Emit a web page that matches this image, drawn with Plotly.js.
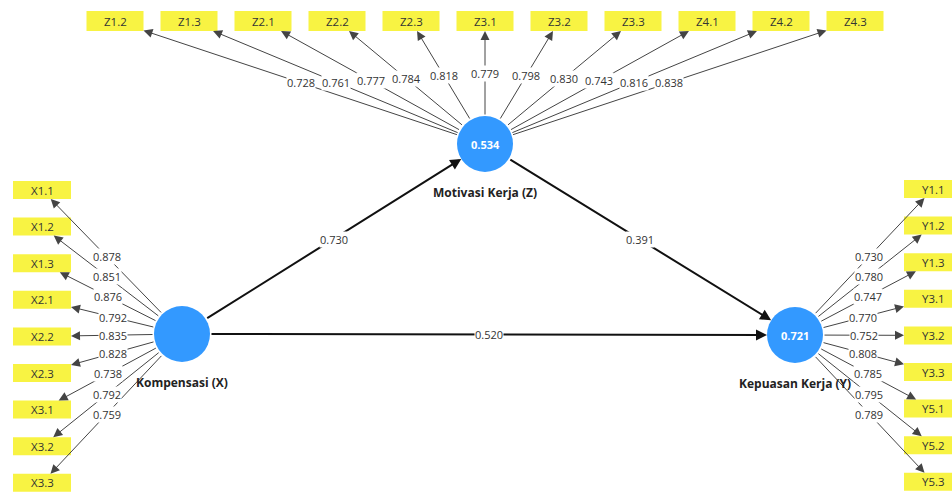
<!DOCTYPE html>
<html>
<head>
<meta charset="utf-8">
<script src="https://cdn.plot.ly/plotly-3.0.1.min.js"></script>
<style>html,body{margin:0;padding:0;background:#fff;}#chart{width:952px;height:493px;}</style>
</head>
<body>
<div id="chart"></div>
<script>
// ---- data ----
const zItems = ['Z1.2','Z1.3','Z2.1','Z2.2','Z2.3','Z3.1','Z3.2','Z3.3','Z4.1','Z4.2','Z4.3'];
const zLoadings = [0.728,0.761,0.777,0.784,0.818,0.779,0.798,0.830,0.743,0.816,0.838];
const xItems = ['X1.1','X1.2','X1.3','X2.1','X2.2','X2.3','X3.1','X3.2','X3.3'];
const xLoadings = [0.878,0.851,0.876,0.792,0.835,0.828,0.738,0.792,0.759];
const yItems = ['Y1.1','Y1.2','Y1.3','Y3.1','Y3.2','Y3.3','Y5.1','Y5.2','Y5.3'];
const yLoadings = [0.730,0.780,0.747,0.770,0.752,0.808,0.785,0.795,0.789];
const constructs = ['Kompensasi (X)','Motivasi Kerja (Z)','Kepuasan Kerja (Y)'];
const rSquared = [null, 0.534, 0.721];
const pathFrom = [0,1,0];
const pathTo = [1,2,2];
const pathCoef = [0.730,0.391,0.520];

// ---- layout geometry (pixels) ----
const NODE = [{x:182,y:334},{x:485,y:144},{x:795,y:335}];
const R = 28;
const ZROW = {cx0:115, dx:74, cy:21, w:57, h:20};
const XCOL = {cx:42, cy0:190, dy:36.6, w:58, h:18};
const YCOL = {cx:933, cy0:189, dy:36.6, w:58, h:18};
const FONT = 'Open Sans, DejaVu Sans, sans-serif';
const YELLOW = '#f8f343';
const BLUE = '#3399ff';

const shapes = [];
const annotations = [];
const labelAnns = [];

function fmt(v){ return v.toFixed(3); }

function addIndicator(name, load, bx, by, w, h, node){
  shapes.push({type:'rect', xref:'x', yref:'y', x0:bx-w/2, x1:bx+w/2, y0:by-h/2, y1:by+h/2,
    fillcolor:YELLOW, line:{width:0}, layer:'below'});
  annotations.push({x:bx, y:by, xref:'x', yref:'y', text:name, showarrow:false,
    font:{family:FONT, size:11.5, color:'#333'}});
  const C = NODE[node];
  const dx = bx - C.x, dy = by - C.y;
  const len = Math.hypot(dx, dy);
  let t = 0;
  if (Math.abs(dx) > 0) t = Math.max(t, 1 - w/(2*Math.abs(dx)));
  if (Math.abs(dy) > 0) t = Math.max(t, 1 - h/(2*Math.abs(dy)));
  const s0 = R/len;
  const tx = C.x + dx*t, ty = C.y + dy*t;
  annotations.push({x:tx, y:ty, ax:C.x+dx*s0, ay:C.y+dy*s0, xref:'x', yref:'y', axref:'x', ayref:'y',
    text:'', showarrow:true, arrowhead:2, arrowsize:1.8, arrowwidth:1, arrowcolor:'#444', standoff:0});
  const sm = (s0 + t)/2;
  labelAnns.push({x:C.x+dx*sm, y:C.y+dy*sm, xref:'x', yref:'y', text:fmt(load), showarrow:false,
    bgcolor:'#fff', borderpad:0, font:{family:FONT, size:11, color:'#333'}});
}

zItems.forEach((n,i)=>addIndicator(n, zLoadings[i], ZROW.cx0 + i*ZROW.dx, ZROW.cy, ZROW.w, ZROW.h, 1));
xItems.forEach((n,i)=>addIndicator(n, xLoadings[i], XCOL.cx, XCOL.cy0 + i*XCOL.dy, XCOL.w, XCOL.h, 0));
yItems.forEach((n,i)=>addIndicator(n, yLoadings[i], YCOL.cx, YCOL.cy0 + i*YCOL.dy, YCOL.w, YCOL.h, 2));

// structural paths
pathCoef.forEach((c,i)=>{
  const A = NODE[pathFrom[i]], B = NODE[pathTo[i]];
  const dx = B.x - A.x, dy = B.y - A.y, len = Math.hypot(dx,dy);
  const s0 = R/len, s1 = 1 - R/len;
  annotations.push({x:A.x+dx*s1, y:A.y+dy*s1, ax:A.x+dx*s0, ay:A.y+dy*s0, xref:'x', yref:'y', axref:'x', ayref:'y',
    text:'', showarrow:true, arrowhead:2, arrowsize:1.1, arrowwidth:2, arrowcolor:'#111', standoff:0});
  labelAnns.push({x:A.x+dx*0.5, y:A.y+dy*0.5, xref:'x', yref:'y', text:fmt(c), showarrow:false,
    bgcolor:'#fff', borderpad:0, font:{family:FONT, size:11, color:'#333'}});
});

// constructs
constructs.forEach((name,i)=>{
  const C = NODE[i];
  shapes.push({type:'circle', xref:'x', yref:'y', x0:C.x-R, x1:C.x+R, y0:C.y-R, y1:C.y+R,
    fillcolor:BLUE, line:{width:0}, layer:'above'});
  if (rSquared[i] !== null) {
    annotations.push({x:C.x, y:C.y, xref:'x', yref:'y', text:'<b>'+fmt(rSquared[i])+'</b>', showarrow:false,
      font:{family:FONT, size:11, color:'#fff'}});
  }
  labelAnns.push({x:C.x, y:C.y+R+20, xref:'x', yref:'y', text:'<b>'+name+'</b>', showarrow:false,
    font:{family:FONT, size:12, color:'#222'}});
});

const layout = {
  width:952, height:493, margin:{l:0,r:0,t:0,b:0},
  paper_bgcolor:'#fff', plot_bgcolor:'#fff', showlegend:false,
  xaxis:{range:[0,952], visible:false, fixedrange:true},
  yaxis:{range:[493,0], visible:false, fixedrange:true},
  shapes:shapes,
  annotations:annotations.concat(labelAnns)
};
Plotly.newPlot('chart', [{x:[], y:[], type:'scatter', mode:'markers', hoverinfo:'skip'}], layout, {staticPlot:true, displayModeBar:false});
</script>
</body>
</html>
